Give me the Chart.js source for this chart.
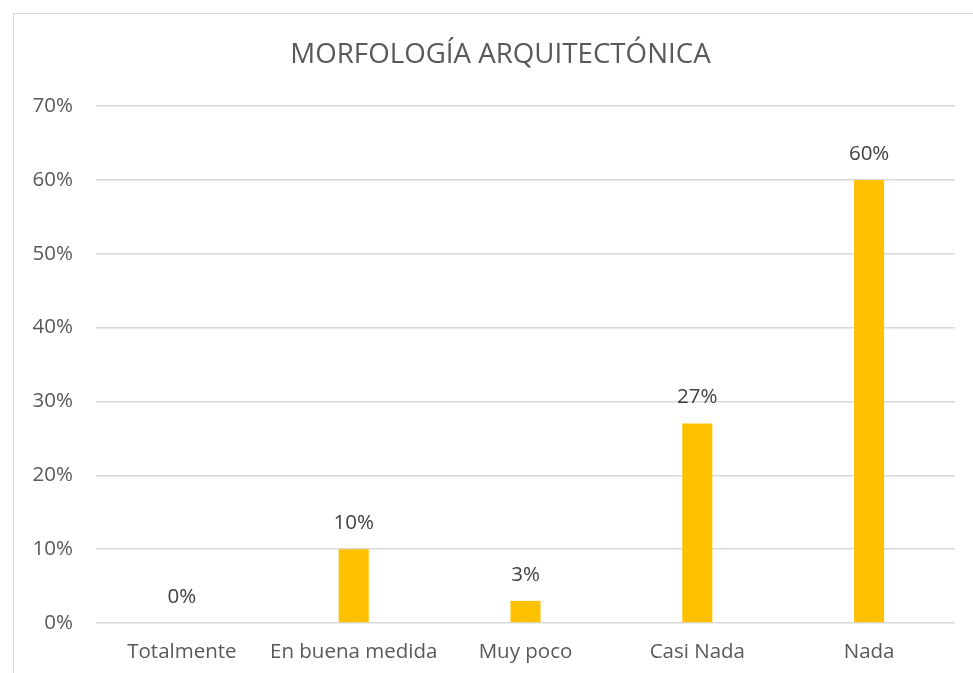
<!DOCTYPE html>
<html>
<head>
<meta charset="utf-8">
<script src="https://cdn.jsdelivr.net/npm/chart.js@4"></script>
<style>
    html, body { margin: 0; padding: 0; background: #fff; overflow: hidden; width: 973px; height: 673px; }
    #frame {
        position: absolute; left: 13px; top: 13px;
        width: 973px; height: 673px;
        border: 1px solid #d9d9d9; box-sizing: border-box;
    }
    #chart { display: block; }
</style>
</head>
<body>
<div id="frame"><canvas id="chart" width="973" height="673"></canvas></div>
<script>
// Chart data
const categories = ['Totalmente', 'En buena medida', 'Muy poco', 'Casi Nada', 'Nada'];
const percentValues = [0, 10, 3, 27, 60];
const yTickValues = [0, 10, 20, 30, 40, 50, 60, 70];

const chartTitle = 'MORFOLOGÍA ARQUITECTÓNICA';
const fontFamily = '"Open Sans", "Noto Sans", sans-serif';

// Draws the value above each bar
const barLabels = {
    id: 'barLabels',
    afterDatasetsDraw(chart) {
        const ctx = chart.ctx;
        const meta = chart.getDatasetMeta(0);
        ctx.save();
        ctx.fillStyle = '#404040';
        ctx.font = '20.5px ' + fontFamily;
        ctx.textAlign = 'center';
        ctx.textBaseline = 'middle';
        meta.data.forEach((bar, i) => {
            ctx.fillText(percentValues[i] + '%', bar.x, bar.y - 26);
        });
        ctx.restore();
    }
};

const ctx = document.getElementById('chart');
new Chart(ctx, {
    type: 'bar',
    data: {
        labels: categories,
        datasets: [{
            data: percentValues,
            backgroundColor: '#FFC000',
            borderWidth: 0,
            categoryPercentage: 1,
            barPercentage: 0.175
        }]
    },
    options: {
        responsive: false,
        animation: false,
        layout: { padding: 0 },
        plugins: {
            legend: { display: false },
            tooltip: { enabled: false },
            title: {
                display: true,
                text: chartTitle,
                color: '#595959',
                font: { family: fontFamily, size: 27.7, weight: 'normal' },
                padding: { top: 24, bottom: 34.8 }
            }
        },
        scales: {
            x: {
                grid: { display: false },
                border: { display: false },
                ticks: {
                    color: '#595959',
                    font: { family: fontFamily, size: 20.5 },
                    padding: 9,
                    maxRotation: 0
                },
                afterFit(scale) { scale.height = 64; }
            },
            y: {
                min: 0,
                max: 70,
                afterBuildTicks(scale) {
                    scale.ticks = yTickValues.map(v => ({ value: v }));
                },
                grid: { color: '#d9d9d9', lineWidth: 1.5, drawTicks: false },
                border: { display: false },
                ticks: {
                    color: '#595959',
                    font: { family: fontFamily, size: 20.5 },
                    padding: 23,
                    callback: v => v + '%'
                },
                afterFit(scale) { scale.width = 82; }
            },
            // empty right-hand spacer so the title stays centred on the frame
            spacer: {
                type: 'linear',
                position: 'right',
                grid: { display: false },
                border: { display: false },
                ticks: { display: false },
                afterFit(scale) { scale.width = 32; }
            }
        }
    },
    plugins: [barLabels]
});
</script>
</body>
</html>
